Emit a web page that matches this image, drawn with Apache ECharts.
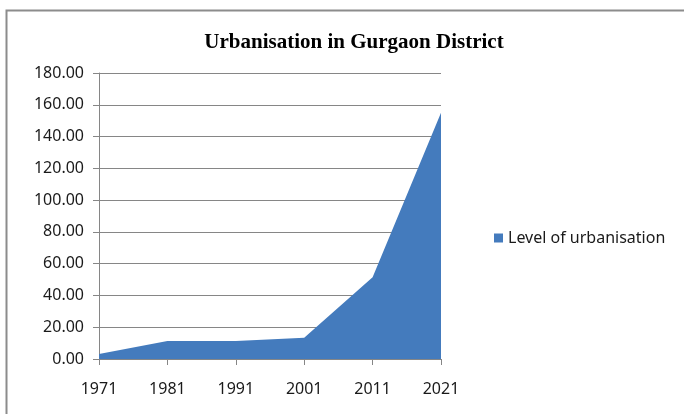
<!DOCTYPE html>
<html>
<head>
<meta charset="utf-8">
<script src="https://cdn.jsdelivr.net/npm/echarts@6/dist/echarts.min.js"></script>
<style>
  html, body { margin: 0; padding: 0; background: #fff; }
  #chart { width: 684px; height: 414px; }
</style>
</head>
<body>
<div id="chart"></div>
<script>
const years = ['1971', '1981', '1991', '2001', '2011', '2021']
const urbanisation = [3.1, 11.4, 11.4, 13.4, 51.5, 155.0]

const chart = echarts.init(document.getElementById('chart'))

const axisFont = { color: '#1a1a1a', fontSize: 16, fontFamily: 'Noto Sans' }

chart.setOption({
  animation: false,
  backgroundColor: '#fff',
  title: {
    text: 'Urbanisation in Gurgaon District',
    left: 349,
    top: 27,
    textAlign: 'center',
    textStyle: { fontFamily: 'Liberation Serif', fontWeight: 'bold', fontSize: 21, color: '#000' }
  },
  legend: {
    data: ['Level of urbanisation'],
    orient: 'vertical',
    left: 489,
    top: 225,
    itemWidth: 9,
    itemHeight: 9,
    itemGap: 6,
    icon: 'rect',
    textStyle: { fontFamily: 'Noto Sans', fontSize: 16, color: '#1a1a1a' }
  },
  grid: { left: 99, right: 243, top: 73, bottom: 55 },
  xAxis: {
    type: 'category',
    data: years,
    boundaryGap: false,
    axisLine: { lineStyle: { color: '#868686', width: 1 } },
    axisTick: { show: true, length: 6, alignWithLabel: true, lineStyle: { color: '#868686' } },
    axisLabel: { ...axisFont, margin: 22 },
    splitLine: { show: false }
  },
  yAxis: {
    type: 'value',
    min: 0,
    max: 180,
    interval: 20,
    axisLine: { show: true, lineStyle: { color: '#868686' } },
    axisTick: { show: true, length: 6, lineStyle: { color: '#868686' } },
    axisLabel: { ...axisFont, margin: 15, formatter: v => v.toFixed(2) },
    splitLine: { lineStyle: { color: '#868686', width: 1 } }
  },
  series: [{
    name: 'Level of urbanisation',
    type: 'line',
    data: urbanisation,
    symbol: 'none',
    lineStyle: { width: 0 },
    itemStyle: { color: '#447bbd' },
    areaStyle: { color: '#447bbd', opacity: 1 },
    z: 3
  }],
  graphic: [{
    type: 'polyline',
    silent: true,
    shape: { points: [[6.5, 414], [6.5, 10.5], [684, 10.5]] },
    style: { stroke: '#8c8c8c', lineWidth: 2, fill: null }
  }]
})
</script>
</body>
</html>
